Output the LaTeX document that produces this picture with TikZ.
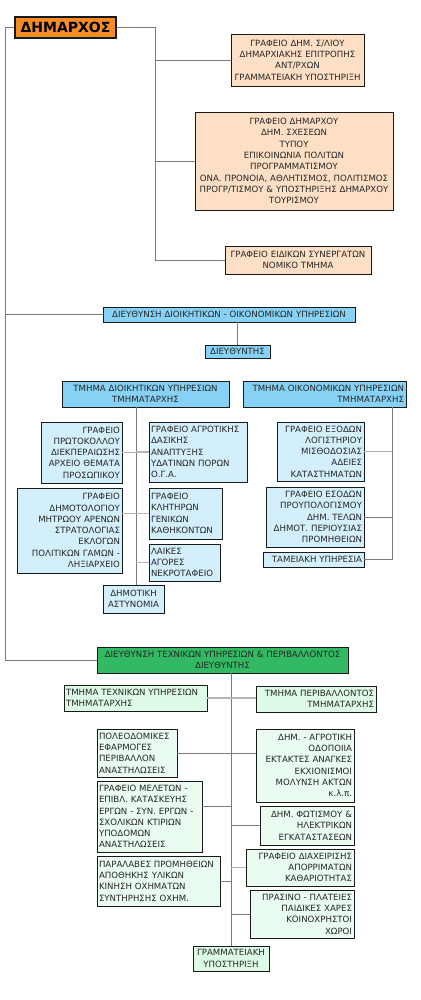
\documentclass[tikz,border=0pt]{standalone}
\usepackage{fontspec}
\setmainfont{DejaVu Sans}
\usepackage{xcolor}
\usepackage{tikz}

\definecolor{mayorfill}{HTML}{F58C28}
\definecolor{peachfill}{HTML}{FDDFC6}
\definecolor{bluehead}{HTML}{86D1F4}
\definecolor{bluefill}{HTML}{D4EFFC}
\definecolor{greenhead}{HTML}{33B864}
\definecolor{mintfill}{HTML}{DDFAE6}
\definecolor{mintsub}{HTML}{EAFBF0}
\definecolor{linkgray}{HTML}{7A7A7A}
\definecolor{weakgray}{HTML}{B4B4B4}

\newcommand{\orgfont}{\fontsize{8.6}{11.3}\selectfont}

\begin{document}
\begin{tikzpicture}[x=1pt,y=-1pt,
  unit/.style={draw=black!90, line width=0.9pt, inner xsep=2pt, inner ysep=1pt,
    font=\orgfont, text=black!85},
  mayorbox/.style={unit, fill=mayorfill, line width=1.3pt, text=black,
    font=\fontsize{14}{16}\selectfont\bfseries, align=center},
  peachbox/.style={unit, fill=peachfill, align=center},
  bluebox/.style={unit, fill=bluehead},
  subbox/.style={unit, fill=bluefill},
  greenbox/.style={unit, fill=greenhead, align=center},
  mintbox/.style={unit, fill=mintfill},
  leafbox/.style={unit, fill=mintsub},
  link/.style={draw=linkgray, line width=0.8pt},
  weak/.style={draw=weakgray, line width=1.6pt}]
\useasboundingbox (0,0) rectangle (420,1000);

  \node[mayorbox, text width=97pt, minimum height=21pt] (m) at (65.5,27.5) {ΔΗΜΑΡΧΟΣ};

  \node[peachbox, text width=129pt, minimum height=52pt] (b1) at (297.5,60)
    {ΓΡΑΦΕΙΟ ΔΗΜ. Σ/ΛΙΟΥ\\ ΔΗΜΑΡΧΙΑΚΗΣ ΕΠΙΤΡΟΠΗΣ\\ ΑΝΤ/ΡΧΩΝ\\ ΓΡΑΜΜΑΤΕΙΑΚΗ ΥΠΟΣΤΗΡΙΞΗ};
  \node[peachbox, text width=194pt, minimum height=98pt] (b2) at (294,161)
    {ΓΡΑΦΕΙΟ ΔΗΜΑΡΧΟΥ\\ ΔΗΜ. ΣΧΕΣΕΩΝ\\ ΤΥΠΟΥ\\ ΕΠΙΚΟΙΝΩΝΙΑ ΠΟΛΙΤΩΝ\\ ΠΡΟΓΡΑΜΜΑΤΙΣΜΟΥ\\
     ΟΝΑ. ΠΡΟΝΟΙΑ, ΑΘΛΗΤΙΣΜΟΣ, ΠΟΛΙΤΙΣΜΟΣ\\ ΠΡΟΓΡ/ΤΙΣΜΟΥ \& ΥΠΟΣΤΗΡΙΞΗΣ ΔΗΜΑΡΧΟΥ\\ ΤΟΥΡΙΣΜΟΥ};
  \node[peachbox, text width=142pt, minimum height=28pt] (b3) at (298,260)
    {ΓΡΑΦΕΙΟ ΕΙΔΙΚΩΝ ΣΥΝΕΡΓΑΤΩΝ\\ ΝΟΜΙΚΟ ΤΜΗΜΑ};

  \coordinate (rs) at (155,27.5);
  \draw[link] (m.east) -- (rs) |- (b3.west);
  \draw[link] (rs |- b1.west) -- (b1.west);
  \draw[link] (rs |- b2.west) -- (b2.west);

  % administrative & financial services
  \node[bluebox, align=center, text width=248pt, minimum height=15pt] (adir) at (229,314.5)
    {ΔΙΕΥΘΥΝΣΗ ΔΙΟΙΚΗΤΙΚΩΝ - ΟΙΚΟΝΟΜΙΚΩΝ ΥΠΗΡΕΣΙΩΝ};
  \node[bluebox, align=center, text width=61pt, minimum height=13pt] (dira) at (237.5,351.5)
    {ΔΙΕΥΘΥΝΤΗΣ};
  \node[bluebox, align=center, text width=163pt, minimum height=26pt] (ta) at (145.5,394)
    {ΤΜΗΜΑ ΔΙΟΙΚΗΤΙΚΩΝ ΥΠΗΡΕΣΙΩΝ\\ ΤΜΗΜΑΤΑΡΧΗΣ};
  \node[bluebox, align=right, text width=159pt, minimum height=26pt] (te) at (324.5,394)
    {ΤΜΗΜΑ ΟΙΚΟΝΟΜΙΚΩΝ ΥΠΗΡΕΣΙΩΝ\\ ΤΜΗΜΑΤΑΡΧΗΣ};

  \node[subbox, align=right, text width=77pt, minimum height=61pt] (p1) at (81.5,452.5)
    {ΓΡΑΦΕΙΟ\\ ΠΡΩΤΟΚΟΛΛΟΥ\\ ΔΙΕΚΠΕΡΑΙΩΣΗΣ\\ ΑΡΧΕΙΟ ΘΕΜΑΤΑ\\ ΠΡΟΣΩΠΙΚΟΥ};
  \node[subbox, align=left, text width=94pt, minimum height=60pt] (p2) at (198,452)
    {ΓΡΑΦΕΙΟ ΑΓΡΟΤΙΚΗΣ\\ ΔΑΣΙΚΗΣ\\ ΑΝΑΠΤΥΞΗΣ\\ ΥΔΑΤΙΝΩΝ ΠΟΡΩΝ\\ Ο.Γ.Α.};
  \node[subbox, align=right, text width=101pt, minimum height=85pt] (p3) at (69.5,530.5)
    {ΓΡΑΦΕΙΟ\\ ΔΗΜΟΤΟΛΟΓΙΟΥ\\ ΜΗΤΡΩΟΥ ΑΡΕΝΩΝ\\ ΣΤΡΑΤΟΛΟΓΙΑΣ\\ ΕΚΛΟΓΩΝ\\ ΠΟΛΙΤΙΚΩΝ ΓΑΜΩΝ -\\ ΛΗΞΙΑΡΧΕΙΟ};
  \node[subbox, align=left, text width=69pt, minimum height=51pt] (p4) at (185.5,513.5)
    {ΓΡΑΦΕΙΟ\\ ΚΛΗΤΗΡΩΝ\\ ΓΕΝΙΚΩΝ\\ ΚΑΘΗΚΟΝΤΩΝ};
  \node[subbox, align=left, text width=67pt, minimum height=37pt] (p5) at (184.5,562.5)
    {ΛΑΙΚΕΣ\\ ΑΓΟΡΕΣ\\ ΝΕΚΡΟΤΑΦΕΙΟ};
  \node[subbox, align=center, text width=57pt, minimum height=28pt] (pol) at (133.5,599)
    {ΔΗΜΟΤΙΚΗ\\ ΑΣΤΥΝΟΜΙΑ};

  \node[subbox, align=right, text width=83pt, minimum height=59pt] (e1) at (320.5,451.5)
    {ΓΡΑΦΕΙΟ ΕΞΟΔΩΝ\\ ΛΟΓΙΣΤΗΡΙΟΥ\\ ΜΙΣΘΟΔΟΣΙΑΣ\\ ΑΔΕΙΕΣ\\ ΚΑΤΑΣΤΗΜΑΤΩΝ};
  \node[subbox, align=right, text width=94pt, minimum height=60pt] (e2) at (315,517)
    {ΓΡΑΦΕΙΟ ΕΣΟΔΩΝ\\ ΠΡΟΥΠΟΛΟΓΙΣΜΟΥ\\ ΔΗΜ. ΤΕΛΩΝ\\ ΔΗΜΟΤ. ΠΕΡΙΟΥΣΙΑΣ\\ ΠΡΟΜΗΘΕΙΩΝ};
  \node[subbox, align=right, text width=97pt, minimum height=15pt] (e3) at (313.5,559.5)
    {ΤΑΜΕΙΑΚΗ ΥΠΗΡΕΣΙΑ};

  \coordinate (ls) at (5,27.5);
  \draw[link] (m.west) -- (ls) |- (adir.west);
  \draw[link] (adir.south -| dira.north) -- (dira.north);

  \coordinate (ac) at (136,407);
  \draw[link] (ac) -- (ac |- pol.north);
  \draw[weak] (p1.east) -- (ac |- p1.east);
  \draw[weak] (ac |- p2.west) -- (p2.west);
  \draw[weak] (p4.west -| p3.east) -- (p4.west);
  \draw[weak] (ac |- p5.west) -- (p5.west);

  \coordinate (ec) at (392,407);
  \draw[link] (ec) |- (e3.east);
  \draw[weak] (e1.east) -- (ec |- e1.east);
  \draw[link] (e2.east) -- (ec |- e2.east);

  % technical services & environment
  \node[greenbox, text width=247pt, minimum height=26pt] (tdir) at (222.5,660)
    {ΔΙΕΥΘΥΝΣΗ ΤΕΧΝΙΚΩΝ ΥΠΗΡΕΣΙΩΝ \& ΠΕΡΙΒΑΛΛΟΝΤΟΣ\\ ΔΙΕΥΘΥΝΤΗΣ};
  \node[mintbox, align=left, text width=139pt, minimum height=26pt] (tt) at (135.5,698)
    {ΤΜΗΜΑ ΤΕΧΝΙΚΩΝ ΥΠΗΡΕΣΙΩΝ\\ ΤΜΗΜΑΤΑΡΧΗΣ};
  \node[mintbox, align=right, text width=116pt, minimum height=26pt] (tp) at (316,699)
    {ΤΜΗΜΑ ΠΕΡΙΒΑΛΛΟΝΤΟΣ\\ ΤΜΗΜΑΤΑΡΧΗΣ};

  \node[leafbox, align=left, text width=76pt, minimum height=48pt] (q1) at (137,753)
    {ΠΟΛΕΟΔΟΜΙΚΕΣ\\ ΕΦΑΡΜΟΓΕΣ\\ ΠΕΡΙΒΑΛΛΟΝ\\ ΑΝΑΣΤΗΛΩΣΕΙΣ};
  \node[leafbox, align=right, text width=94pt, minimum height=73pt] (q2) at (305,765.5)
    {ΔΗΜ. - ΑΓΡΟΤΙΚΗ\\ ΟΔΟΠΟΙΙΑ\\ ΕΚΤΑΚΤΕΣ ΑΝΑΓΚΕΣ\\ ΕΚΧΙΟΝΙΣΜΟΙ\\ ΜΟΛΥΝΣΗ ΑΚΤΩΝ\\ κ.λ.π.};
  \node[leafbox, align=left, text width=101pt, minimum height=71pt] (q3) at (149.5,816.5)
    {ΓΡΑΦΕΙΟ ΜΕΛΕΤΩΝ -\\ ΕΠΙΒΛ. ΚΑΤΑΣΚΕΥΗΣ\\ ΕΡΓΩΝ - ΣΥΝ. ΕΡΓΩΝ -\\ ΣΧΟΛΙΚΩΝ ΚΤΙΡΙΩΝ\\ ΥΠΟΔΟΜΩΝ\\ ΑΝΑΣΤΗΛΩΣΕΙΣ};
  \node[leafbox, align=right, text width=90pt, minimum height=39pt] (q4) at (307,825.5)
    {ΔΗΜ. ΦΩΤΙΣΜΟΥ \&\\ ΗΛΕΚΤΡΙΚΩΝ\\ ΕΓΚΑΤΑΣΤΑΣΕΩΝ};
  \node[leafbox, align=right, text width=104pt, minimum height=37pt] (q5) at (300,867.5)
    {ΓΡΑΦΕΙΟ ΔΙΑΧΕΙΡΙΣΗΣ\\ ΑΠΟΡΡΙΜΑΤΩΝ\\ ΚΑΘΑΡΙΟΤΗΤΑΣ};
  \node[leafbox, align=left, text width=119pt, minimum height=50pt] (q6) at (158.5,881)
    {ΠΑΡΑΛΑΒΕΣ ΠΡΟΜΗΘΕΙΩΝ\\ ΑΠΟΘΗΚΗΣ ΥΛΙΚΩΝ\\ ΚΙΝΗΣΗ ΟΧΗΜΑΤΩΝ\\ ΣΥΝΤΗΡΗΣΗΣ ΟΧΗΜ.};
  \node[leafbox, align=right, text width=100pt, minimum height=48pt] (q7) at (302,914)
    {ΠΡΑΣΙΝΟ - ΠΛΑΤΕΙΕΣ\\ ΠΑΙΔΙΚΕΣ ΧΑΡΕΣ\\ ΚΟΙΝΟΧΡΗΣΤΟΙ\\ ΧΩΡΟΙ};
  \node[mintbox, align=center, text width=72pt, minimum height=25pt] (sec) at (231,958.5)
    {ΓΡΑΜΜΑΤΕΙΑΚΗ\\ ΥΠΟΣΤΗΡΙΞΗ};

  \draw[link] (ls |- adir.west) |- (tdir.west);
  \draw[link] (tdir.south -| sec.north) -- (sec.north);
  \draw[weak] (tt.east) -- (tt.east -| tp.west);
  \draw[link] (q1.east) -- (q1.east -| q2.west);
  \path ([yshift=10.5pt]q3.east) coordinate (q3c);
  \draw[link] (q3c) -- (q3c -| sec.north);
  \draw[link] (sec.north |- q4.west) -- (q4.west);
  \draw[weak] (sec.north |- q5.west) -- (q5.west);
  \draw[link] (q6.east) -- (q6.east -| sec.north);
  \draw[link] (sec.north |- q7.west) -- (q7.west);
\end{tikzpicture}
\end{document}
